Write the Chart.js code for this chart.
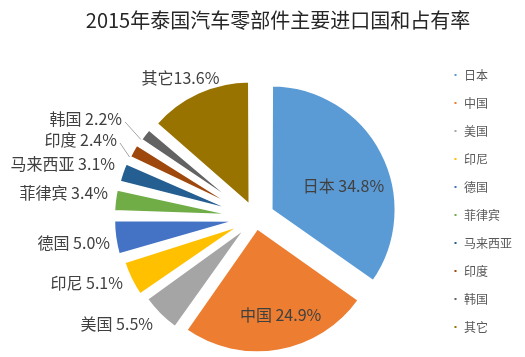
<!DOCTYPE html>
<html>
<head>
<meta charset="utf-8">
<script src="https://cdn.jsdelivr.net/npm/chart.js@4/dist/chart.umd.min.js"></script>
<style>
  html, body { margin: 0; padding: 0; background: #ffffff; }
  #wrap { width: 525px; height: 357px; position: relative; }
</style>
</head>
<body>
<div id="wrap"><canvas id="chart"></canvas></div>
<script>
// ---- data ----
const categories = ['日本', '中国', '美国', '印尼', '德国', '菲律宾', '马来西亚', '印度', '韩国', '其它'];
const shares = [34.8, 24.9, 5.5, 5.1, 5.0, 3.4, 3.1, 2.4, 2.2, 13.6];
const title = '2015年泰国汽车零部件主要进口国和占有率';

// ---- styles ----
const colors = ['#5B9BD5', '#ED7D31', '#A5A5A5', '#FFC000', '#4472C4', '#70AD47', '#255E91', '#9E480E', '#636363', '#997300'];
const FONT = '"Noto Sans CJK SC", "Noto Sans", sans-serif';
const PIE_RADIUS = 125;
// outward shift of every slice (px)
const explode = [17.5, 10, 11, 14, 17, 17, 16, 15, 14, 13.2];
// label placement: angle shift from the slice bisector (deg), distance from pie centre, alignment
const labelLayout = [
  { da: 7.4, r: 93.6, align: 'center' },
  { da: -4.6, r: 100.2, align: 'center' },
  { da: -0.8, r: 147.5, align: 'right' },
  { da: 0.0, r: 147.6, align: 'right' },
  { da: -1.75, r: 147.6, align: 'right' },
  { da: 2.4, r: 149.6, align: 'right' },
  { da: 2.1, r: 150.5, align: 'right' },
  { da: 0.6, r: 159, align: 'right', leader: true },
  { da: -0.5, r: 166.2, align: 'right', leader: true },
  { da: -3.7, r: 158.8, align: 'center', nospace: true }
];

// Chart.js also enlarges an exploded arc by offset/4*(1-sin(circumference));
// keep every slice at the same radius.
const equalRadiusPlugin = {
  id: 'equalRadius',
  afterDatasetUpdate(chart, args) {
    const meta = chart.getDatasetMeta(args.index);
    meta.data.forEach((arc) => {
      const t = (arc.options.offset || 0) / 4;
      const fix = 1 - Math.sin(Math.min(Math.PI, arc.endAngle - arc.startAngle));
      arc.outerRadius = PIE_RADIUS - t * fix;
    });
  }
};

const labelPlugin = {
  id: 'sliceLabels',
  afterDatasetsDraw(chart) {
    const meta = chart.getDatasetMeta(0);
    const ctx = chart.ctx;
    ctx.save();
    ctx.font = '16px ' + FONT;
    ctx.textBaseline = 'middle';
    meta.data.forEach((arc, i) => {
      const spec = labelLayout[i];
      const mid = (arc.startAngle + arc.endAngle) / 2;
      const a = mid + spec.da * Math.PI / 180;
      const px = arc.x + spec.r * Math.cos(a);
      const py = arc.y + spec.r * Math.sin(a);
      const text = categories[i] + (spec.nospace ? '' : ' ') + shares[i].toFixed(1) + '%';
      ctx.fillStyle = '#404040';
      ctx.textAlign = spec.align;
      ctx.fillText(text, px, py);
      if (spec.leader) {
        const t = (arc.options.offset || 0) / 4;
        const vx = arc.x + t * Math.cos(mid);
        const vy = arc.y + t * Math.sin(mid);
        const ea = arc.startAngle + 1 * Math.PI / 180;
        const ex = vx + PIE_RADIUS * Math.cos(ea);
        const ey = vy + PIE_RADIUS * Math.sin(ea);
        ctx.beginPath();
        ctx.strokeStyle = '#A6A6A6';
        ctx.lineWidth = 1;
        ctx.moveTo(px + 3, py + 3);
        ctx.lineTo(ex, ey);
        ctx.stroke();
      }
    });
    ctx.restore();
  }
};

new Chart(document.getElementById('chart'), {
  type: 'pie',
  data: {
    labels: categories,
    datasets: [{
      data: shares,
      backgroundColor: colors,
      borderColor: '#ffffff',
      borderWidth: 3,
      radius: PIE_RADIUS,
      rotation: 0,
      offset: (c) => 4 * explode[c.dataIndex],
      hoverOffset: 0
    }]
  },
  options: {
    responsive: true,
    maintainAspectRatio: false,
    animation: false,
    layout: { padding: { left: 74, right: 3, top: 0, bottom: 0 } },
    plugins: {
      title: {
        display: true,
        text: title + '\u3000\u3000',
        color: '#262626',
        font: { size: 20, family: FONT, weight: 'normal' },
        padding: { top: 8, bottom: 47 }
      },
      legend: {
        position: 'right',
        align: 'start',
        fullSize: true,
        title: {
          display: true,
          text: ' ',
          font: { size: 12, family: FONT },
          padding: { top: 38.6, bottom: 0 }
        },
        labels: {
          boxWidth: 5,
          boxHeight: 5,
          padding: 16,
          color: '#595959',
          font: { size: 12, family: FONT }
        }
      },
      tooltip: { enabled: false }
    }
  },
  plugins: [equalRadiusPlugin, labelPlugin]
});
</script>
</body>
</html>
